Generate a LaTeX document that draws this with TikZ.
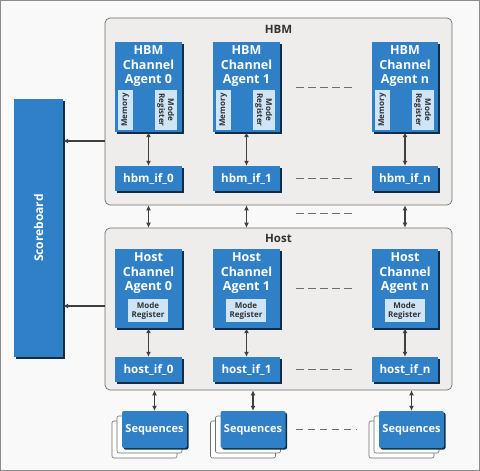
\documentclass[tikz,border=0pt]{standalone}
\usepackage{fontspec}
\setmainfont{Open Sans}
\usetikzlibrary{arrows.meta,shadows,calc}
\definecolor{boxblue}{HTML}{2F80C6}
\definecolor{subblue}{HTML}{CFE4F6}
\definecolor{contfill}{HTML}{EEEDEC}
\definecolor{contline}{HTML}{6E6E6E}
\definecolor{bgfill}{HTML}{F9F9F9}
\definecolor{arrowcol}{HTML}{3F3F3F}
\definecolor{titlecol}{HTML}{333333}
\tikzset{
  outerframe/.style={draw=contline!80, fill=bgfill, line width=0.8pt},
  container/.style={draw=contline, fill=contfill, rounded corners=5pt, line width=0.7pt, inner sep=0pt},
  title/.style={font=\fontsize{11.5}{12}\selectfont\bfseries, text=titlecol, inner sep=0pt},
  bluebox/.style={fill=boxblue, inner sep=0pt, text=white,
    drop shadow={shadow xshift=1.5pt, shadow yshift=-1.5pt, fill=black!65!boxblue, opacity=1},
    font=\fontsize{11.6}{14.5}\selectfont\bfseries, align=center},
  agenttext/.style={text=white, inner sep=0pt, align=center, anchor=north,
    font=\fontsize{12.5}{14.5}\selectfont\bfseries},
  subbox/.style={fill=subblue, inner sep=0pt, text=titlecol, align=center,
    font=\fontsize{8}{9}\selectfont\bfseries},
  backbox/.style={draw=contline, fill=white, rounded corners=2pt, line width=0.6pt,
    minimum width=65pt, minimum height=37pt, inner sep=0pt},
  dbl/.style={arrowcol, line width=1.4pt, {Latex[length=5pt,width=5pt]}-{Latex[length=5pt,width=5pt]}},
  sgl/.style={arrowcol, line width=1.1pt, -{Latex[length=5pt,width=5pt]}},
  dashline/.style={contline, line width=0.9pt, dash pattern=on 7.5pt off 4.5pt},
}
\begin{document}
\begin{tikzpicture}[x=1pt,y=-1pt]
\useasboundingbox (0,0) rectangle (480,471);
\draw[outerframe] (0.5,0.5) rectangle (479.5,470.5);

% containers
\node[container, minimum width=347pt, minimum height=187pt] (hbm) at (278.5,111.5) {};
\node[container, minimum width=347pt, minimum height=162pt] (host) at (278.5,309) {};
\node[title] (hbmt) at (278.5,29) {HBM};
\node[title] (hostt) at (278.5,238.5) {Host};

% scoreboard
\node[bluebox, minimum width=49pt, minimum height=258pt] (sb) at (38.5,228) {};
\node[text=white, rotate=90, inner sep=0pt, font=\fontsize{12}{12}\selectfont\bfseries] (sbt) at (38.5,228) {Scoreboard};

% HBM agents
\foreach \n/\x/\w/\lbl in {0/148.5/67/0, 1/246.5/67/1, n/405/66/n}{
  \node[bluebox, minimum width=\w pt, minimum height=90pt] (ha\n) at (\x,87) {};
  \node[agenttext] (hat\n) at (\x,45.5) {HBM\\Channel\\Agent \lbl};
  \node[subbox, rotate=90, minimum width=40pt, minimum height=15pt] (hm\n) at ($(ha\n.west)+(10.5,23)$) {Memory};
  \node[subbox, rotate=-90, minimum width=40pt, minimum height=22pt] (hr\n) at ($(ha\n.west)+(51,23)$) {Mode\\Register};
  \node[bluebox, minimum width=\w pt, minimum height=25pt] (hi\n) at (\x,178.5) {hbm\_if\_\lbl};
  \draw[dbl] (ha\n.south) -- (hi\n.north);
  \draw[dbl] (hbm.south -| hi\n) -- (host.north -| hi\n);
}

% Host agents
\foreach \n/\x/\w/\lbl in {0/148.5/67/0, 1/246.5/67/1, n/405/66/n}{
  \node[bluebox, minimum width=\w pt, minimum height=79pt] (ca\n) at (\x,288.5) {};
  \node[agenttext] (cat\n) at (\x,252.5) {Host\\Channel\\Agent \lbl};
  \node[subbox, minimum width=40pt, minimum height=23pt] (cr\n) at (\x-0.5,310.5) {Mode\\Register};
  \node[bluebox, minimum width=\w pt, minimum height=25pt] (ci\n) at (\x,369.5) {host\_if\_\lbl};
  \draw[dbl] (ca\n.south) -- (ci\n.north);
}

% Sequences
\foreach \n/\x in {0/154.5, 1/253, n/411.5}{
  \node[backbox] (sb2\n) at (\x-10,439.5) {};
  \node[backbox] (sb1\n) at (\x-5,434.5) {};
  \node[bluebox, rounded corners=2pt, minimum width=65pt, minimum height=37pt, font=\fontsize{11}{12}\selectfont\bfseries] (sq\n) at (\x,429.5) {Sequences};
  \draw[dbl] (host.south -| sq\n) -- (sq\n.north);
}

% scoreboard arrows
\draw[sgl] (hbm.west |- 0,141) -- (sb.east |- 0,141);
\draw[sgl] (host.west |- 0,306) -- (sb.east |- 0,306);

% dashed ellipses
\draw[dashline] ($(ha1.east)+(16,0)$) -- ($(han.west)+(-16,0)$);
\draw[dashline] ($(hi1.east)+(16,0)$) -- ($(hin.west)+(-16,0)$);
\draw[dashline] ($(hi1.east |- 0,213)+(16,0)$) -- ($(hin.west |- 0,213)+(-16,0)$);
\draw[dashline] ($(ca1.east)+(16,0)$) -- ($(can.west)+(-16,0)$);
\draw[dashline] ($(ci1.east)+(16,0)$) -- ($(cin.west)+(-16,0)$);
\draw[dashline] ($(sq1.east)+(10,0)$) -- ($(sb2n.west)+(-12,-10)$);
\end{tikzpicture}
\end{document}
